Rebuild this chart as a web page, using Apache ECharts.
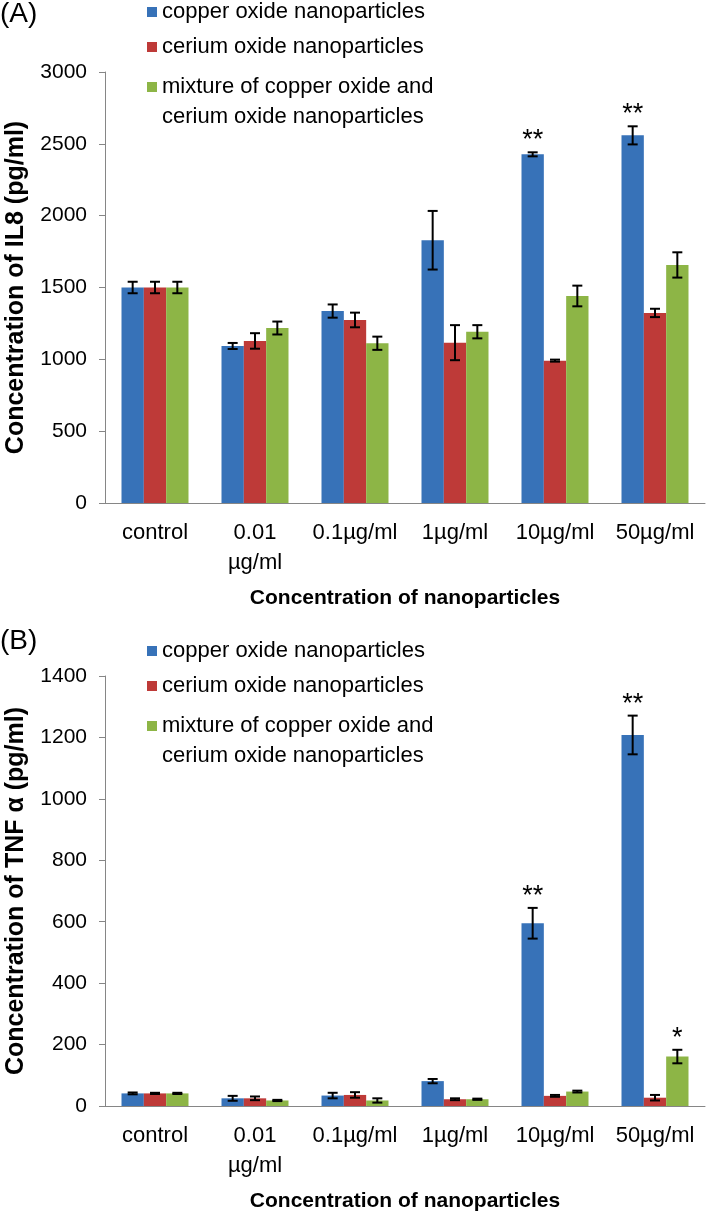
<!DOCTYPE html>
<html>
<head>
<meta charset="utf-8">
<script src="https://cdn.jsdelivr.net/npm/echarts@6/dist/echarts.min.js"></script>
<style>
html,body{margin:0;padding:0;background:#fff;}
#chart{width:709px;height:1214px;}
</style>
</head>
<body>
<div id="chart"></div>
<script>
// ---------- data ----------
const categories = ['control', '0.01\nµg/ml', '0.1µg/ml', '1µg/ml', '10µg/ml', '50µg/ml'];
const seriesNames = ['copper oxide nanoparticles', 'cerium oxide nanoparticles', 'mixture of copper oxide and cerium oxide nanoparticles'];

const il8Copper = [1500, 1093, 1336, 1829, 2427, 2559];
const il8CopperErr = [40, 21, 46, 204, 14, 63];
const il8Cerium = [1500, 1128, 1274, 1116, 991, 1323];
const il8CeriumErr = [40, 54, 51, 122, 7, 29];
const il8Mixture = [1500, 1218, 1112, 1192, 1441, 1657];
const il8MixtureErr = [40, 45, 46, 46, 72, 88];
const il8CopperStars = ['', '', '', '', '**', '**'];
const il8CeriumStars = ['', '', '', '', '', ''];
const il8MixtureStars = ['', '', '', '', '', ''];

const tnfCopper = [41, 25, 34, 81, 595, 1208];
const tnfCopperErr = [3, 8, 9, 7, 50, 63];
const tnfCerium = [41, 25, 36, 22, 33, 27];
const tnfCeriumErr = [2, 6, 9, 3, 3, 9];
const tnfMixture = [41, 18, 18, 22, 47, 161];
const tnfMixtureErr = [2, 2, 7, 2, 3, 22];
const tnfCopperStars = ['', '', '', '', '**', '**'];
const tnfCeriumStars = ['', '', '', '', '', ''];
const tnfMixtureStars = ['', '', '', '', '', '*'];

const il8Ticks = {min: 0, max: 3000, interval: 500};
const tnfTicks = {min: 0, max: 1400, interval: 200};

// ---------- style ----------
const colors = ['#3772B8', '#BE3A38', '#8DB546'];
const FONT = 'Liberation Sans, Arial, sans-serif';
const AXIS_GRAY = '#868686';
const CAT_GAP = 0.33;

function errSeries(gridIdx, pos, values, errs, stars) {
  return {
    type: 'custom',
    xAxisIndex: gridIdx, yAxisIndex: gridIdx,
    z: 5, silent: true,
    encode: {x: 0, y: 1},
    data: values.map((v, i) => [i, v, errs[i]]),
    renderItem: function (params, api) {
      const cat = api.value(0), v = api.value(1), e = api.value(2);
      const band = api.size([1, 0])[0];
      const bw = band * (1 - CAT_GAP) / 3;
      const c = api.coord([cat, v]);
      const x = c[0] + (pos - 1) * bw;
      const yTop = api.coord([cat, v + e])[1];
      const yBot = api.coord([cat, v - e])[1];
      const cap = 5;
      const st = {stroke: '#000', lineWidth: 2};
      const children = [
        {type: 'line', shape: {x1: x, y1: yTop, x2: x, y2: yBot}, style: st},
        {type: 'line', shape: {x1: x - cap, y1: yTop, x2: x + cap, y2: yTop}, style: st},
        {type: 'line', shape: {x1: x - cap, y1: yBot, x2: x + cap, y2: yBot}, style: st}
      ];
      const s = stars[params.dataIndex];
      if (s) {
        children.push({
          type: 'text',
          style: {text: s, x: x, y: yTop + 2, align: 'center', verticalAlign: 'bottom',
                  font: '27px ' + FONT, fill: '#000'}
        });
      }
      return {type: 'group', children: children};
    }
  };
}

function barSeries(gridIdx, idx, values) {
  return {
    name: seriesNames[idx], type: 'bar',
    xAxisIndex: gridIdx, yAxisIndex: gridIdx,
    data: values, barGap: '0%', barCategoryGap: (CAT_GAP * 100) + '%',
    itemStyle: {color: colors[idx]},
    emphasis: {disabled: true}
  };
}

function legends(centerY) {
  const base = {left: 147, orient: 'vertical', padding: 0, itemWidth: 10, itemHeight: 10,
                icon: 'rect', selectedMode: false};
  return [
    Object.assign({}, base, {top: centerY - 12, data: [seriesNames[0]],
      textStyle: {fontFamily: FONT, fontSize: 22, color: '#000', lineHeight: 24}}),
    Object.assign({}, base, {top: centerY + 35 - 12, data: [seriesNames[1]],
      textStyle: {fontFamily: FONT, fontSize: 22, color: '#000', lineHeight: 24}}),
    Object.assign({}, base, {top: centerY + 75 - 45, data: [seriesNames[2]],
      formatter: function () { return '\nmixture of copper oxide and\ncerium oxide nanoparticles'; },
      textStyle: {fontFamily: FONT, fontSize: 22, color: '#000', lineHeight: 30}})
  ];
}

function xAxis(gridIdx) {
  return {
    type: 'category', gridIndex: gridIdx, data: categories,
    axisLine: {lineStyle: {color: AXIS_GRAY, width: 1}},
    axisTick: {length: 6, lineStyle: {color: AXIS_GRAY}},
    axisLabel: {interval: 0, margin: 15, fontFamily: FONT, fontSize: 22, color: '#000', lineHeight: 30},
    name: 'Concentration of nanoparticles', nameLocation: 'middle', nameGap: 85,
    nameTextStyle: {fontFamily: FONT, fontSize: 21, fontWeight: 'bold', color: '#000'}
  };
}

function yAxis(gridIdx, ticks, name) {
  return {
    type: 'value', gridIndex: gridIdx, min: ticks.min, max: ticks.max, interval: ticks.interval,
    splitLine: {show: false},
    axisLine: {show: true, lineStyle: {color: AXIS_GRAY, width: 1}},
    axisTick: {show: true, length: 6, lineStyle: {color: AXIS_GRAY}},
    axisLabel: {margin: 18, fontFamily: FONT, fontSize: 21, color: '#000',
                formatter: function (v) { return String(v); }},
    name: name, nameLocation: 'middle', nameGap: 76,
    nameTextStyle: {fontFamily: FONT, fontSize: 25, fontWeight: 'bold', color: '#000'}
  };
}

const chart = echarts.init(document.getElementById('chart'), null, {renderer: 'canvas'});
chart.setOption({
  animation: false,
  backgroundColor: '#fff',
  textStyle: {fontFamily: FONT},
  grid: [
    {left: 105, top: 72, width: 600, height: 431, containLabel: false, outerBoundsMode: 'none'},
    {left: 105, top: 676, width: 600, height: 430, containLabel: false, outerBoundsMode: 'none'}
  ],
  legend: legends(12).concat(legends(651)),
  graphic: [
    {type: 'text', left: 0, top: 0, style: {text: '(A)', font: '28px ' + FONT, fill: '#000'}},
    {type: 'text', left: 0, top: 627, style: {text: '(B)', font: '28px ' + FONT, fill: '#000'}}
  ],
  xAxis: [xAxis(0), xAxis(1)],
  yAxis: [yAxis(0, il8Ticks, 'Concentration of IL8 (pg/ml)'), yAxis(1, tnfTicks, 'Concentration of TNF α (pg/ml)')],
  series: [
    barSeries(0, 0, il8Copper), barSeries(0, 1, il8Cerium), barSeries(0, 2, il8Mixture),
    barSeries(1, 0, tnfCopper), barSeries(1, 1, tnfCerium), barSeries(1, 2, tnfMixture),
    errSeries(0, 0, il8Copper, il8CopperErr, il8CopperStars),
    errSeries(0, 1, il8Cerium, il8CeriumErr, il8CeriumStars),
    errSeries(0, 2, il8Mixture, il8MixtureErr, il8MixtureStars),
    errSeries(1, 0, tnfCopper, tnfCopperErr, tnfCopperStars),
    errSeries(1, 1, tnfCerium, tnfCeriumErr, tnfCeriumStars),
    errSeries(1, 2, tnfMixture, tnfMixtureErr, tnfMixtureStars)
  ]
});
</script>
</body>
</html>
